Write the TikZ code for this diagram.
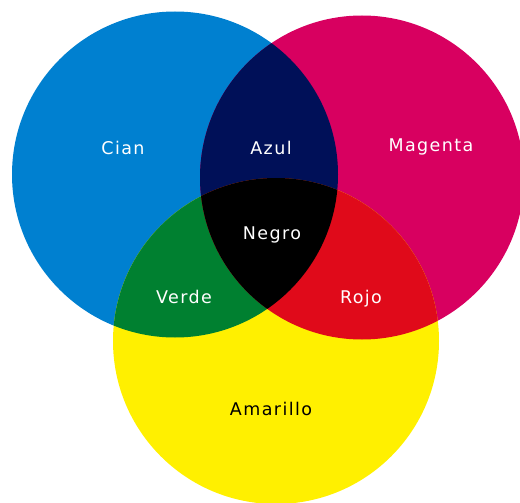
\documentclass[tikz,border=0pt]{standalone}
\usepackage{fontspec}
\setmainfont{DejaVu Sans}
\usepackage{tikz}
\usetikzlibrary{positioning}
\definecolor{cian}{RGB}{0,128,208}
\definecolor{magenta}{RGB}{216,0,96}
\definecolor{amarillo}{RGB}{255,240,0}
\definecolor{azul}{RGB}{0,16,88}
\definecolor{verde}{RGB}{0,128,48}
\definecolor{rojo}{RGB}{224,10,26}
\tikzstyle{txt}=[text=white,anchor=base,inner sep=0pt,font=\fontsize{17.5}{20}\selectfont\addfontfeature{LetterSpace=8}]
\def\ciancirc{(175,174.5) circle (163)}
\def\magcirc{(362,177.5) circle (162)}
\def\amacirc{(276,341) circle (163)}

\begin{document}
\begin{tikzpicture}[
  x=1pt,y=-1pt,
]
\useasboundingbox (0,0) rectangle (520,503);
% the three discs
\fill[cian] \ciancirc;
\fill[magenta] \magcirc;
\fill[amarillo] \amacirc;
% pairwise overlaps
\begin{scope}
  \clip \ciancirc;
  \fill[azul] \magcirc;
  \fill[verde] \amacirc;
\end{scope}
\begin{scope}
  \clip \magcirc;
  \fill[rojo] \amacirc;
\end{scope}
% all three
\begin{scope}
  \clip \ciancirc;
  \clip \magcirc;
  \fill[black] \amacirc;
\end{scope}

\node[txt] (cian) at (123,154) {Cian};
\node[txt] (azul) at (271,154) {Azul};
\node[txt] (magenta) at (431,151) {Magenta};
\node[txt] (negro) at (272,239) {Negro};
\node[txt] (verde) at (184,303) {Verde};
\node[txt] (rojo) at (361,303) {Rojo};
\node[txt,text=black] (amarillo) at (271,415) {Amarillo};
\end{tikzpicture}
\end{document}
